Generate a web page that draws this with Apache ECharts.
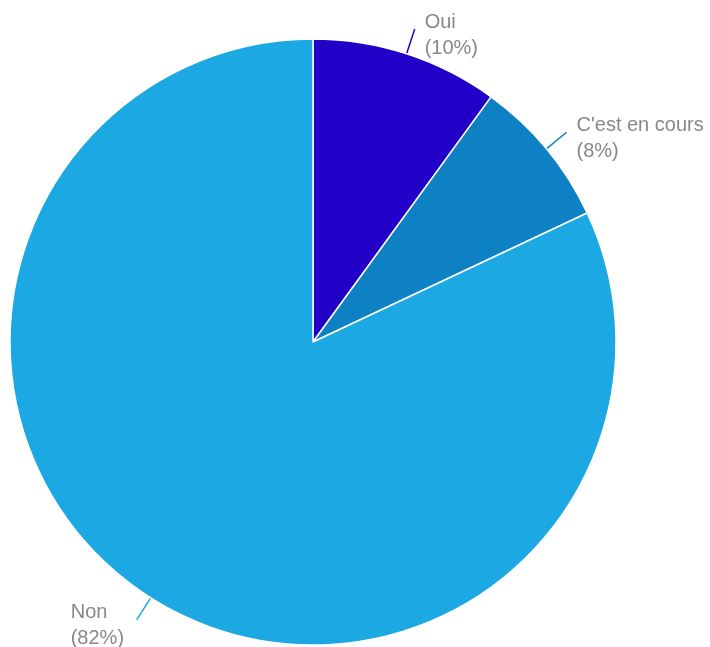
<!DOCTYPE html>
<html><head><meta charset="utf-8">
<script src="https://cdn.jsdelivr.net/npm/echarts@6/dist/echarts.min.js"></script>
<style>html,body{margin:0;padding:0;background:#fff}#c{width:710px;height:647px}</style>
</head><body><div id="c"></div>
<script>
const categories = ["Oui", "C'est en cours", "Non"];
const values = [10, 8, 82];
const colors = ["#2200c8", "#0e80c4", "#1ba8e3"];

const chart = echarts.init(document.getElementById('c'));
const labelFont = {color: '#888', fontFamily: 'Liberation Sans, Arial, sans-serif', fontSize: 20, lineHeight: 26};
chart.setOption({
  animation: false,
  series: [{
    type: 'pie',
    center: [313, 342],
    radius: [0, 303],
    startAngle: 90,
    clockwise: true,
    avoidLabelOverlap: false,
    data: categories.map((n, i) => ({name: n, value: values[i], itemStyle: {color: colors[i]}})),
    itemStyle: {borderColor: '#fff', borderWidth: 1.5},
    label: Object.assign({
      show: true,
      position: 'outside',
      formatter: p => p.dataIndex === 2 ? '{w|' + p.name + '}\n{w|(' + p.percent + '%)}'
                                        : '{a|' + p.name + '}\n{a|(' + p.percent + '%)}',
      distanceToLabelLine: 10,
      overflow: 'none',
      padding: [12, 0, 0, 0],
      rich: {
        a: Object.assign({}, labelFont),
        w: Object.assign({width: 56, align: 'left'}, labelFont)
      }
    }, labelFont),
    labelLine: {show: true, length: 26, length2: 0, lineStyle: {width: 1.5}},
    emphasis: {disabled: true}
  }]
});
</script></body></html>
